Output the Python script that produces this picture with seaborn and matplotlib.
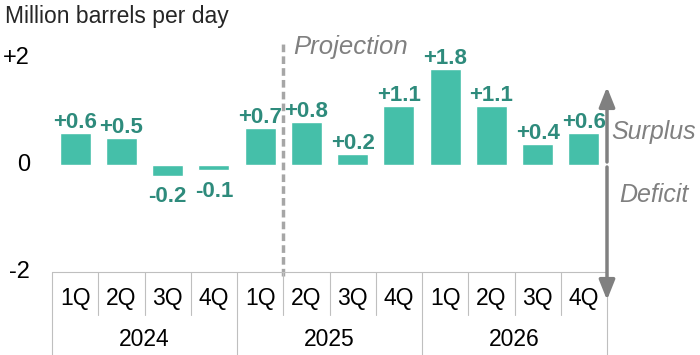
import matplotlib
matplotlib.use("Agg")
import matplotlib.pyplot as plt
import matplotlib.transforms as mtransforms
import seaborn as sns
import pandas as pd

years = ["2024", "2025", "2026"]
quarters = ["1Q", "2Q", "3Q", "4Q"]
values = [0.6, 0.5, -0.2, -0.1, 0.7, 0.8, 0.2, 1.1, 1.8, 1.1, 0.4, 0.6]
value_labels = ["+0.6", "+0.5", "-0.2", "-0.1", "+0.7", "+0.8", "+0.2", "+1.1", "+1.8", "+1.1", "+0.4", "+0.6"]
ytick_vals = [-2, 0, 2]
ytick_labels = ["-2", "0", "+2"]

cats = [f"{y} {q}" for y in years for q in quarters]
df = pd.DataFrame({"cat": cats, "value": values})

sns.set_theme(style="white")
plt.rcParams["font.family"] = ["Liberation Sans", "DejaVu Sans"]

BAR = "#45BFA9"
LAB = "#2E8B7C"
GRID = "#BFBFBF"
GRAY = "#808080"

fig = plt.figure(figsize=(7.0, 3.55), dpi=100)
W, H = 700, 355
x0, x1 = 52, 607
ytop, ybot = 58, 272
ax = fig.add_axes([x0 / W, 1 - ybot / H, (x1 - x0) / W, (ybot - ytop) / H])

sns.barplot(data=df, x="cat", y="value", color=BAR, width=0.67, ax=ax, saturation=1)
ax.set_xlim(-0.5, 11.5)
ax.set_ylim(-2, 2)
for s in ax.spines.values():
    s.set_visible(False)
ax.set_xlabel("")
ax.set_ylabel("")
ax.set_xticks([])
ax.set_yticks([])

# y tick labels (right-aligned near the left edge)
ytrans = mtransforms.blended_transform_factory(fig.transFigure, ax.transData)
for v, t in zip(ytick_vals, ytick_labels):
    ax.text(30 / W, v, t, transform=ytrans, ha="right", va="center", fontsize=17, color="black")
fig.text(5 / W, 1 - 16 / H, "Million barrels per day", fontsize=16.5, ha="left", va="center")

# value labels
for i, (v, lab) in enumerate(zip(values, value_labels)):
    if v >= 0:
        ax.text(i, v + 0.09, lab, ha="center", va="baseline", fontsize=16,
                fontweight="bold", color=LAB)
    else:
        ax.text(i, v - 0.2, lab, ha="center", va="top", fontsize=16,
                fontweight="bold", color=LAB)

# projection line
trans = ax.get_xaxis_transform()
ax.plot([4.5, 4.5], [-0.02, 1.08], transform=trans, clip_on=False, color="#A6A6A6",
        lw=2.5, ls=(0, (2.2, 1.2)))
ax.text(4.72, 1.05, "Projection", transform=trans, fontsize=18.5, style="italic",
        color=GRAY, ha="left", va="center")

# table
def yax(py):
    return (ybot - py) / (ybot - ytop)

ax.plot([-0.5, 11.5], [0, 0], transform=trans, clip_on=False, color=GRID, lw=0.8)
for k in range(13):
    xb = -0.5 + k
    if k % 4 == 0:
        ax.plot([xb, xb], [0, yax(355)], transform=trans, clip_on=False, color=GRID, lw=0.8)
    else:
        ax.plot([xb, xb], [0, yax(315)], transform=trans, clip_on=False, color=GRID, lw=0.8)
for i in range(12):
    ax.text(i, yax(299), quarters[i % 4], transform=trans, ha="center", va="center",
            fontsize=16.5, color="black")
for j, yr in enumerate(years):
    ax.text(4 * j + 1.5, yax(340), yr, transform=trans, ha="center", va="center",
            fontsize=16.5, color="black")

# surplus/deficit arrows
xa = 11.5
ax.annotate("", xy=(xa, yax(87)), xytext=(xa, yax(162)), xycoords=trans, textcoords=trans,
            arrowprops=dict(arrowstyle="-|>,head_length=1.0,head_width=0.4", color=GRAY, lw=2.5,
                            shrinkA=0, shrinkB=0), annotation_clip=False)
ax.annotate("", xy=(xa, yax(300)), xytext=(xa, yax(167)), xycoords=trans, textcoords=trans,
            arrowprops=dict(arrowstyle="-|>,head_length=1.0,head_width=0.4", color=GRAY, lw=2.5,
                            shrinkA=0, shrinkB=0), annotation_clip=False)
fig.text(654 / W, 1 - 132 / H, "Surplus", fontsize=18, style="italic", color=GRAY,
         ha="center", va="center")
fig.text(654 / W, 1 - 195 / H, "Deficit", fontsize=18, style="italic", color=GRAY,
         ha="center", va="center")

fig.savefig("out.png", dpi=100)
